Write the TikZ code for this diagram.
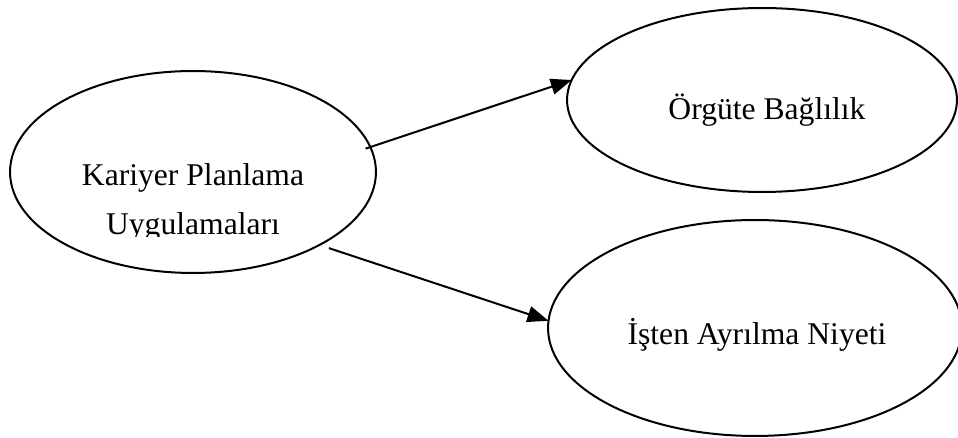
\documentclass[tikz,border=0pt]{standalone}
\usepackage{fontspec}
\setmainfont{Liberation Serif}
\usetikzlibrary{shapes.geometric,arrows.meta}

\begin{document}
\begin{tikzpicture}[x=0.02cm,y=-0.02cm,
  oval/.style={draw,ellipse,line width=0.04cm,inner sep=0pt,outer sep=0pt},
  lbl/.style={anchor=base,inner sep=0pt,align=center,font=\fontsize{18}{27.9}\selectfont},
  link/.style={line width=0.04cm,-{Triangle[length=0.42cm,width=0.32cm]}}]
  \useasboundingbox (0,0) rectangle (958,438);
  \node[oval,minimum width=7.32cm,minimum height=4.04cm] (kpu) at (193,172) {};
  \node[oval,minimum width=7.8cm,minimum height=3.68cm] (org) at (762,100) {};
  \node[oval,minimum width=8.28cm,minimum height=4.32cm] (ian) at (755,328) {};
  \begin{scope}
    \clip (0,0) rectangle (958,237);
    \node[lbl] (kpu-t) at (193,235) {Kariyer Planlama\\Uygulamaları};
  \end{scope}
  \node[lbl] (org-t) at (767,120) {Örgüte Bağlılık};
  \node[lbl] (ian-t) at (757,345) {İşten Ayrılma Niyeti};
  \draw[link,shorten <=-0.1cm] (kpu.8.7) -- (org.174.7);
  \draw[link,shorten <=0.2cm] (kpu.-30.5) -- (ian.178.6);
\end{tikzpicture}
\end{document}
